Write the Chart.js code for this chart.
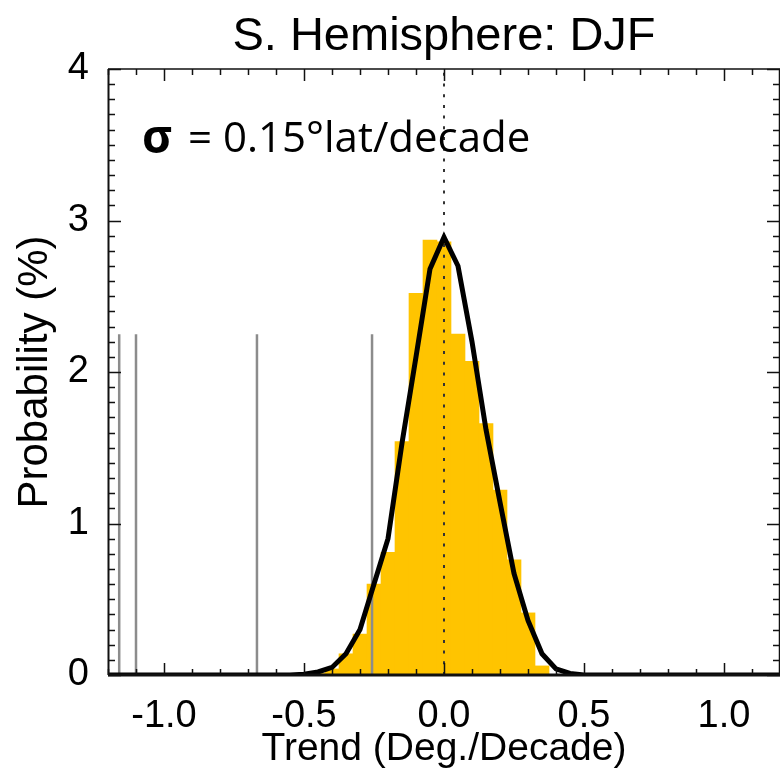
<!DOCTYPE html>
<html><head><meta charset="utf-8">
<script src="https://cdn.jsdelivr.net/npm/chart.js@4/dist/chart.umd.min.js"></script>
<style>html,body{margin:0;padding:0;background:#fff;}#wrap{width:780px;height:769px;}</style>
</head><body><div id="wrap"><canvas id="c" width="780" height="769"></canvas></div>
<script>
const chartTitle = 'S. Hemisphere: DJF';
const xAxisTitle = 'Trend (Deg./Decade)';
const yAxisTitle = 'Probability (%)';
const xTickValues = [-1.0, -0.5, 0.0, 0.5, 1.0];
const xTickLabels = ['-1.0', '-0.5', '0.0', '0.5', '1.0'];
const yTickValues = [0, 1, 2, 3, 4];
const yTickLabels = ['0', '1', '2', '3', '4'];
// histogram bins (centre of bin) and probability (%)
const binCenters = [-0.45, -0.40, -0.35, -0.30, -0.25, -0.20, -0.15, -0.10, -0.05, 0.00, 0.05, 0.10, 0.15, 0.20, 0.25, 0.30, 0.35];
const binProb    = [ 0.01,  0.04,  0.14,  0.27,  0.60,  0.81,  1.54,  2.52,  2.87, 2.86, 2.25, 2.07, 1.66, 1.22, 0.76, 0.41, 0.06];
// fitted curve
const fitX = [-1.2, -0.55, -0.50, -0.45, -0.40, -0.35, -0.30, -0.25, -0.20, -0.15, -0.10, -0.05, 0.00, 0.05, 0.10, 0.15, 0.20, 0.25, 0.30, 0.35, 0.40, 0.45, 0.50, 0.55, 1.2];
const fitY = [ 0.0,  0.0,   0.005, 0.02,  0.05,  0.14,  0.30,  0.60,  0.90,  1.53,  2.10,  2.68,  2.89, 2.70, 2.20, 1.62, 1.14, 0.67, 0.36, 0.14, 0.04, 0.01, 0.0,  0.0,  0.0];
// observed trends (grey vertical lines)
const obsTrends = [-1.16, -1.10, -0.668, -0.257];
const obsLineTop = 2.25;
const sigmaSymbol = 'σ';
const sigmaLabel = '= 0.15°lat/decade';

Chart.defaults.font.family = "'Liberation Sans', Arial, Helvetica, sans-serif";
Chart.defaults.color = '#000';

const datasets = [
  { type: 'line', data: fitX.map((x, i) => ({ x, y: fitY[i] })), borderColor: '#000', borderWidth: 5,
    pointRadius: 0, tension: 0, borderJoinStyle: 'miter', order: 0 },
  ...obsTrends.map(x => ({ type: 'line', data: [{ x, y: 0 }, { x, y: obsLineTop }], borderColor: '#8c8c8c',
    borderWidth: 2.5, pointRadius: 0, order: 1 })),
  { type: 'line', data: [{ x: 0, y: 0 }, { x: 0, y: 4 }], borderColor: '#333', borderWidth: 2,
    borderDash: [3, 7.7], pointRadius: 0, order: 2 },
  { type: 'bar', data: binCenters.map((x, i) => ({ x, y: binProb[i] })), backgroundColor: '#FFC400',
    borderWidth: 0, barPercentage: 1, categoryPercentage: 1, order: 3 }
];

const framePlugin = {
  id: 'frame',
  afterDatasetsDraw(chart) {
    const ctx = chart.ctx, a = chart.chartArea, xs = chart.scales.x, ys = chart.scales.y;
    ctx.save();
    ctx.strokeStyle = '#111';
    ctx.lineWidth = 1.5;
    ctx.beginPath();
    ctx.moveTo(a.left, a.top); ctx.lineTo(a.right, a.top);
    ctx.moveTo(a.right - 0.5, a.top); ctx.lineTo(a.right - 0.5, a.bottom);
    ctx.stroke();
    ctx.lineWidth = 2;
    ctx.beginPath(); ctx.moveTo(a.left + 0.5, a.top); ctx.lineTo(a.left + 0.5, a.bottom); ctx.stroke();
    ctx.lineWidth = 3;
    ctx.beginPath(); ctx.moveTo(a.left, ys.getPixelForValue(0)); ctx.lineTo(a.right, ys.getPixelForValue(0)); ctx.stroke();
    ctx.lineWidth = 1.5;
    ctx.beginPath();
    for (let k = -12; k <= 12; k++) {
      const px = Math.round(xs.getPixelForValue(k / 10)) + 0.5;
      const len = (k % 5 === 0) ? 12 : 6;
      ctx.moveTo(px, a.bottom); ctx.lineTo(px, a.bottom - len);
      ctx.moveTo(px, a.top); ctx.lineTo(px, a.top + len);
    }
    for (let k = 0; k <= 40; k++) {
      const py = Math.round(ys.getPixelForValue(k / 10)) + 0.5;
      const len = (k % 10 === 0) ? 13 : 7;
      ctx.moveTo(a.left, py); ctx.lineTo(a.left + len, py);
      ctx.moveTo(a.right, py); ctx.lineTo(a.right - len, py);
    }
    ctx.stroke();
    ctx.fillStyle = '#000';
    ctx.textBaseline = 'alphabetic';
    ctx.textAlign = 'left';
    ctx.font = "bold 46px 'Open Sans', 'DejaVu Sans', sans-serif";
    ctx.fillText(sigmaSymbol, 142, 153);
    ctx.font = "42px 'Open Sans', 'DejaVu Sans', sans-serif";
    ctx.fillText(sigmaLabel, 188, 152);
    ctx.restore();
  }
};

new Chart(document.getElementById('c'), {
  type: 'bar',
  data: { datasets },
  options: {
    responsive: false, devicePixelRatio: 1, animation: false,
    layout: { padding: 0 },
    plugins: {
      legend: { display: false }, tooltip: { enabled: false },
      title: { display: true, fullSize: false, text: chartTitle, color: '#000', font: { size: 47, weight: 'normal', lineHeight: 1.2 },
        padding: { top: 9, bottom: 3.6 } }
    },
    scales: {
      x: {
        type: 'linear', min: -1.2, max: 1.2, offset: false,
        grid: { display: false }, border: { display: false },
        afterBuildTicks: s => { s.ticks = xTickValues.map(v => ({ value: v })); },
        ticks: { callback: (v, i) => xTickLabels[i], font: { size: 38 }, padding: 11, maxRotation: 0, autoSkip: false, color: '#000' },
        title: { display: true, text: xAxisTitle, font: { size: 39, lineHeight: 1 }, padding: 0, color: '#000' },
        afterFit: s => { s.height = 94; }
      },
      y: {
        min: 0, max: 4,
        grid: { display: false }, border: { display: false },
        afterBuildTicks: s => { s.ticks = yTickValues.map(v => ({ value: v })); },
        ticks: { callback: (v, i) => yTickLabels[i], font: { size: 38 }, padding: 11, color: '#000' },
        title: { display: true, text: yAxisTitle, font: { size: 42, lineHeight: 1.2 }, padding: { top: 10, bottom: 0 }, color: '#000' },
        afterFit: s => { s.width = 108; }
      }
    }
  },
  plugins: [framePlugin]
});
</script></body></html>
